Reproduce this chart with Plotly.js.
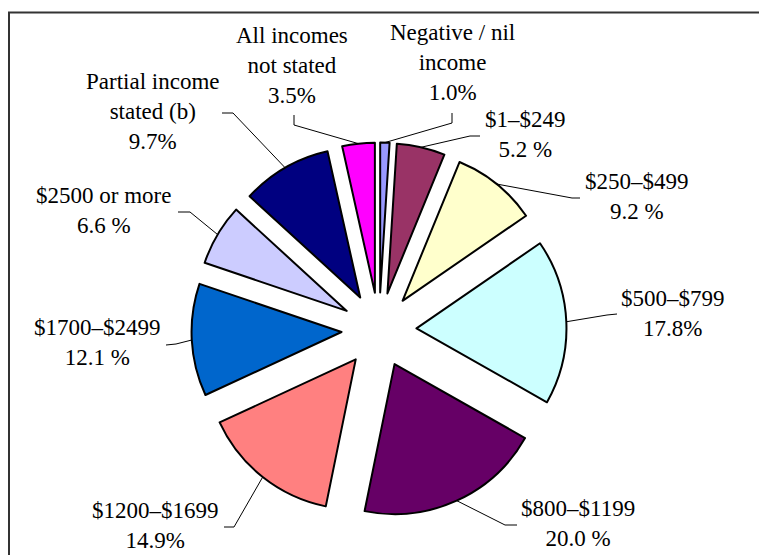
<!DOCTYPE html>
<html>
<head>
<meta charset="utf-8">
<script src="https://cdn.plot.ly/plotly-3.0.1.min.js"></script>
<style>html,body{margin:0;padding:0;background:#fff;}#chart{width:759px;height:555px;}</style>
</head>
<body>
<div id="chart"></div>
<script>
// ---- data ----
const categories = ["Negative / nil income", "$1–$249", "$250–$499", "$500–$799", "$800–$1199",
  "$1200–$1699", "$1700–$2499", "$2500 or more", "Partial income stated (b)", "All incomes not stated"];
const shares = [1.0, 5.2, 9.2, 17.8, 20.0, 14.9, 12.1, 6.6, 9.7, 3.5];
const labelTexts = ["Negative / nil<br>income<br>1.0%", "$1–$249<br>5.2 %", "$250–$499<br>9.2 %",
  "$500–$799<br>17.8%", "$800–$1199<br>20.0 %", "$1200–$1699<br>14.9%", "$1700–$2499<br>12.1 %",
  "$2500 or more<br>6.6 %", "Partial income<br>stated (b)<br>9.7%", "All incomes<br>not stated<br>3.5%"];
const colors = ["#9999ff", "#993366", "#ffffcc", "#ccffff", "#660066",
  "#ff8080", "#0066cc", "#ccccff", "#000080", "#ff00ff"];

// ---- layout config (pixels) ----
const W = 759, H = 555;
const PULL = 0.25;
const pieCx = 379, pieCy = 330, pieBox = 375;
// label text centres and leader elbow (start point, elbow point)
const labelLayout = [
  {tx: 452, ty: 63, sx: 452, sy: 113, ex: 452, ey: 123},
  {tx: 525, ty: 135, sx: 480, sy: 136, ex: 470, ey: 136},
  {tx: 637, ty: 197, sx: 580, sy: 198, ex: 572, ey: 198},
  {tx: 673, ty: 313, sx: 617, sy: 314, ex: 607, ey: 315},
  {tx: 578, ty: 523, sx: 517, sy: 525, ex: 505, ey: 525},
  {tx: 155, ty: 525, sx: 224, sy: 527, ex: 234, ey: 527},
  {tx: 97, ty: 342, sx: 166, sy: 345, ex: 176, ey: 344},
  {tx: 103, ty: 210, sx: 178, sy: 212, ex: 190, ey: 212},
  {tx: 153, ty: 112, sx: 222, sy: 113, ex: 233, ey: 113},
  {tx: 292, ty: 65, sx: 294, sy: 115, ex: 294, ey: 125}
];

const px = x => x / W;
const py = y => 1 - y / H;

const xDom = [(pieCx - pieBox / 2) / W, (pieCx + pieBox / 2) / W];
const yDom = [1 - (pieCy + pieBox / 2) / H, 1 - (pieCy - pieBox / 2) / H];
const R = pieBox / (2 + 2 * PULL);

// anchors on slice outer arc at mid-angle (clockwise from 12 o'clock)
const total = shares.reduce((a, b) => a + b, 0);
let cum = 0;
const shapes = [];
const annotations = [];
shares.forEach((v, i) => {
  const mid = (cum + v / 2) / total * 2 * Math.PI;
  cum += v;
  const s = Math.sin(mid), c = Math.cos(mid);
  const ax = pieCx + (R * PULL + R) * s;
  const ay = pieCy - (R * PULL + R) * c;
  const L = labelLayout[i];
  shapes.push({type: 'path', xref: 'paper', yref: 'paper',
    path: `M ${px(L.sx)} ${py(L.sy)} L ${px(L.ex)} ${py(L.ey)} L ${px(ax)} ${py(ay)}`,
    line: {color: '#000', width: 1}});
  annotations.push({xref: 'paper', yref: 'paper', x: px(L.tx), y: py(L.ty),
    xanchor: 'center', yanchor: 'middle', showarrow: false, align: 'center',
    text: labelTexts[i],
    font: {family: "'Liberation Serif', 'Times New Roman', serif", size: 23, color: '#000'}});
});

// frame
shapes.push({type: 'rect', xref: 'paper', yref: 'paper',
  x0: px(9), x1: 1.05, y0: -0.05, y1: py(12.5),
  line: {color: '#333', width: 2}, fillcolor: 'rgba(0,0,0,0)', layer: 'below'});

const trace = {
  type: 'pie',
  labels: categories,
  values: shares,
  sort: false,
  direction: 'clockwise',
  rotation: 0,
  pull: shares.map(() => PULL),
  marker: {colors: colors, line: {color: '#000', width: 2}},
  textinfo: 'none',
  hoverinfo: 'none',
  showlegend: false,
  domain: {x: xDom, y: yDom}
};

Plotly.newPlot('chart', [trace], {
  width: W, height: H,
  margin: {l: 0, r: 0, t: 0, b: 0},
  paper_bgcolor: '#fff',
  showlegend: false,
  shapes: shapes,
  annotations: annotations
}, {displayModeBar: false, staticPlot: true});
</script>
</body>
</html>
